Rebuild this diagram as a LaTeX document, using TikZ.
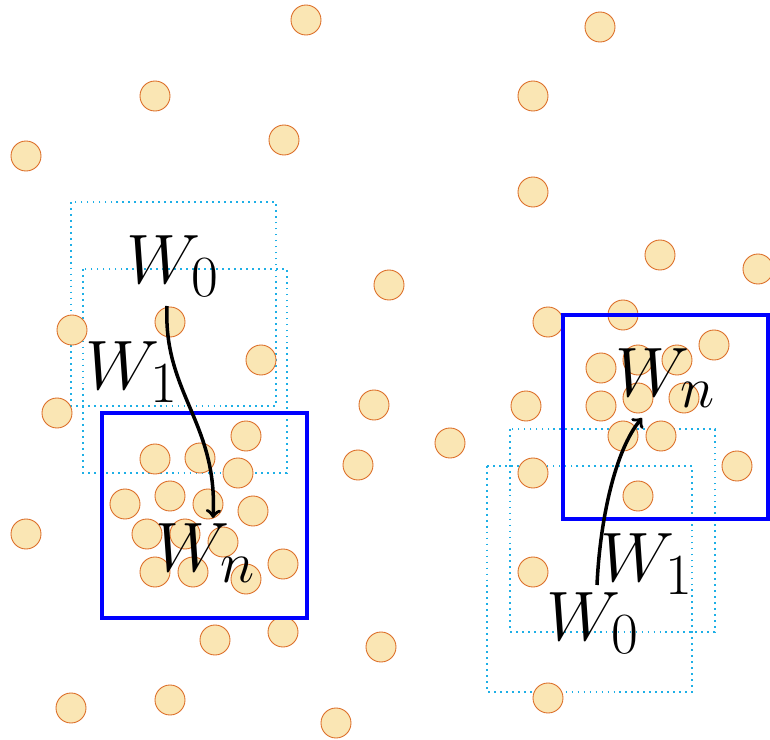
\documentclass[tikz,border=0pt]{standalone}
\definecolor{grainfill}{RGB}{250,230,180}
\definecolor{grainedge}{RGB}{220,110,40}
\definecolor{winblue}{RGB}{30,175,230}
\begin{document}
\begin{tikzpicture}[>=to,
  grain/.style={fill=grainfill,draw=grainedge,line width=0.5pt},
  trial/.style={draw=winblue,line width=1pt,dash pattern=on 1pt off 2.4pt},
  final/.style={draw=blue,line width=2.3pt},
  lab/.style={inner sep=0pt,font=\Huge,scale=1.6,transform shape},
  move/.style={->,line width=2pt}]
\useasboundingbox (0,0) rectangle (15.4,14.8);
% 左侧：窗口向下移动
\draw[trial] (1.42,10.76) rectangle (5.52,6.68);
\draw[trial] (1.66,9.42) rectangle (5.74,5.34);
\foreach \p in {(6.12,14.40),(3.10,12.88),(0.52,11.68),(5.68,12.00),(7.78,9.10),
  (1.44,8.20),(3.40,8.36),(5.22,7.60),(1.14,6.54),(7.48,6.70),(9.00,5.94),
  (7.16,5.50),(0.52,4.12),(4.92,6.08),(3.10,5.62),(4.00,5.64),(4.76,5.34),
  (2.50,4.72),(3.40,4.88),(4.16,4.72),(5.06,4.58),(2.94,4.12),(3.70,4.12),
  (4.46,3.96),(3.10,3.36),(3.86,3.36),(4.92,3.22),(5.66,3.52),(4.30,2.00),
  (5.66,2.16),(7.62,1.86),(1.42,0.64),(3.40,0.80),(6.72,0.34)}
  \filldraw[grain] \p circle (0.3);
\draw[final] (2.04,6.54) rectangle (6.14,2.44);
\node[lab] (l0) at (3.46,9.48) {$W_0$};
\node[lab] (l1) at (2.64,7.36) {$W_1$};
\node[lab] (ln) at (4.12,3.74) {$W_n$};
\coordinate (ls) at (3.34,8.68);
\coordinate (le) at (4.26,4.44);
\draw[move] (ls) .. controls (3.26,6.94) and (4.36,6.34) .. (le);
% 右侧：窗口向上移动
\draw[trial] (9.74,5.48) rectangle (13.84,0.96);
\draw[trial] (10.20,6.22) rectangle (14.30,2.16);
\foreach \p in {(12.00,14.26),(10.66,12.88),(10.66,10.96),(13.20,9.70),(15.16,9.42),
  (10.96,8.36),(12.46,8.50),(14.28,7.90),(12.02,7.44),(12.76,7.60),(13.54,7.60),
  (10.52,6.68),(12.02,6.68),(12.76,6.84),(13.68,6.84),(12.46,6.08),(13.22,6.08),
  (14.74,5.48),(10.66,5.34),(12.76,4.88),(10.66,3.36),(10.96,0.84)}
  \filldraw[grain] \p circle (0.3);
\draw[final] (11.26,8.50) rectangle (15.36,4.42);
\node[lab] (r0) at (11.86,2.34) {$W_0$};
\node[lab] (r1) at (12.94,3.52) {$W_1$};
\node[lab] (rn) at (13.32,7.24) {$W_n$};
\coordinate (rs) at (11.94,3.10);
\coordinate (re) at (12.84,6.44);
\draw[move] (rs) .. controls (12.00,4.40) and (12.30,5.80) .. (re);
\end{tikzpicture}
\end{document}
